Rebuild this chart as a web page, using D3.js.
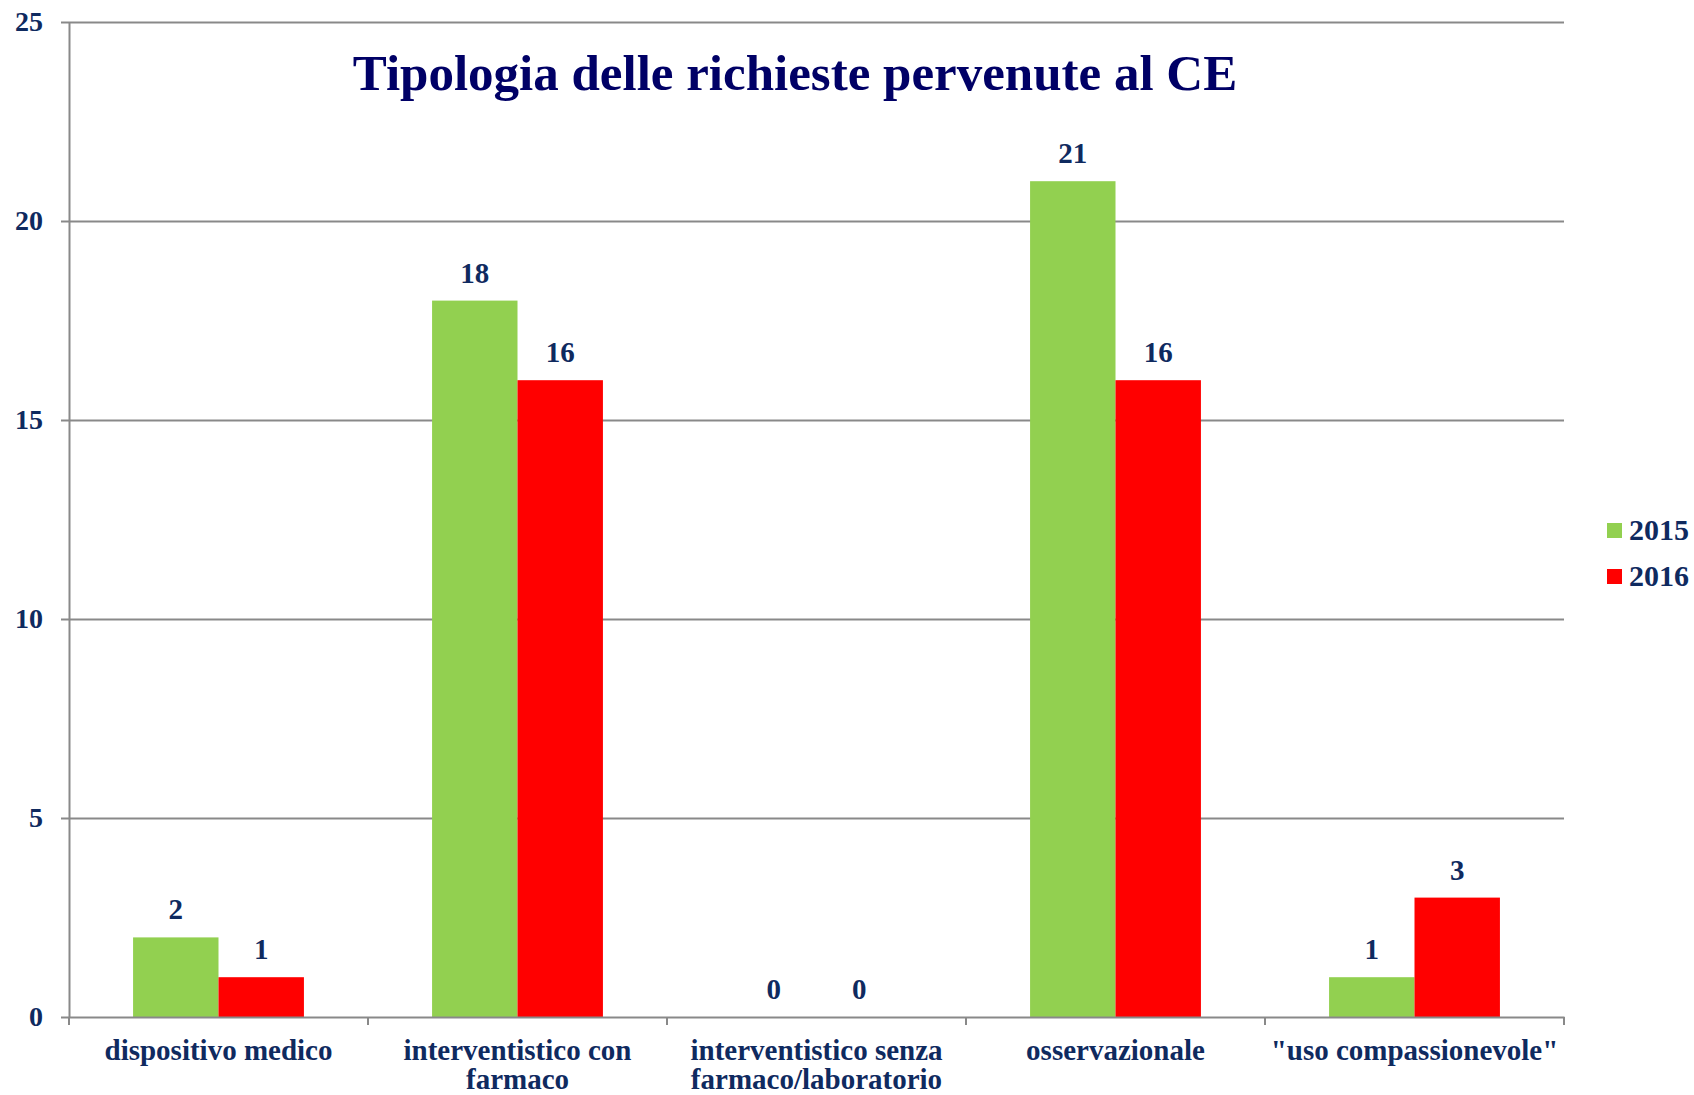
<!DOCTYPE html>
<html>
<head>
<meta charset="utf-8">
<script src="https://cdn.jsdelivr.net/npm/d3@7"></script>
<style>
	body { margin: 0; background: #ffffff; }
	text { font-family: "Liberation Serif", "DejaVu Serif", serif; font-weight: bold; }
</style>
</head>
<body>
<div id="chart"></div>
<script>
var w = 1694;
var h = 1095;

var categories = ["dispositivo medico", "interventistico con farmaco", "interventistico senza farmaco/laboratorio", "osservazionale", "\"uso compassionevole\""];
var series = ["2015", "2016"];
var values2015 = [2, 18, 0, 21, 1];
var values2016 = [1, 16, 0, 16, 3];
var tickValues = [0, 5, 10, 15, 20, 25];
var colors = ["#92d050", "#ff0000"];
var title = "Tipologia delle richieste pervenute al CE";

var plotLeft = 69;
var plotRight = 1564;
var plotTop = 22;
var plotBottom = 1017;
var textColor = "#0f2a5f";
var lineColor = "#898989";

var dataset = [];
categories.forEach(function(c, i) {
	dataset.push({ category: c, values: [
		{ year: series[0], value: values2015[i] },
		{ year: series[1], value: values2016[i] }
	]});
});

var svg = d3.select("#chart")
			.append("svg")
			.attr("width", w)
			.attr("height", h);

var xScale = d3.scaleBand()
			.domain(categories)
			.range([plotLeft, plotRight]);

var xSub = d3.scaleBand()
			.domain(series)
			.range([0, xScale.bandwidth()])
			.paddingInner(0)
			.paddingOuter(0.75);

var yScale = d3.scaleLinear()
			.domain([0, 25])
			.range([plotBottom, plotTop]);

var colorScale = d3.scaleOrdinal()
			.domain(series)
			.range(colors);

// gridlines
var grid = svg.append("g")
	.attr("transform", "translate(" + plotLeft + ",0)")
	.call(d3.axisLeft(yScale).tickValues(tickValues.slice(1)).tickSize(-(plotRight - plotLeft)).tickFormat(""));
grid.select(".domain").remove();
grid.selectAll("line").attr("stroke", lineColor).attr("stroke-width", 2);

// y axis
var yAxis = svg.append("g")
	.attr("transform", "translate(" + plotLeft + ",0)")
	.call(d3.axisLeft(yScale).tickValues(tickValues).tickSizeInner(8).tickSizeOuter(0).tickPadding(18));
yAxis.select(".domain").attr("stroke", lineColor).attr("stroke-width", 2);
yAxis.selectAll("line").attr("stroke", lineColor).attr("stroke-width", 2);
yAxis.selectAll("text")
	.style("font-family", "Liberation Serif")
	.style("font-weight", "bold")
	.style("font-size", "28px")
	.attr("fill", textColor);

// bars
var groups = svg.selectAll(".cat")
	.data(dataset)
	.enter()
	.append("g")
	.attr("class", "cat")
	.attr("transform", function(d) {
		return "translate(" + xScale(d.category) + ",0)";
	});

groups.selectAll("rect")
	.data(function(d) { return d.values; })
	.enter()
	.append("rect")
	.attr("x", function(d) { return xSub(d.year); })
	.attr("y", function(d) { return yScale(d.value); })
	.attr("width", xSub.bandwidth())
	.attr("height", function(d) { return plotBottom - yScale(d.value); })
	.attr("fill", function(d) { return colorScale(d.year); });

groups.selectAll(".lbl")
	.data(function(d) { return d.values; })
	.enter()
	.append("text")
	.attr("class", "lbl")
	.attr("x", function(d) { return xSub(d.year) + xSub.bandwidth() / 2; })
	.attr("y", function(d) { return yScale(d.value) - 18; })
	.attr("text-anchor", "middle")
	.style("font-size", "29px")
	.attr("fill", textColor)
	.text(function(d) { return d.value; });

// x axis
var xAxis = svg.append("g")
	.attr("transform", "translate(0," + plotBottom + ")")
	.call(d3.axisBottom(xScale).tickSize(0).tickFormat(""));
xAxis.select(".domain").attr("stroke", lineColor).attr("stroke-width", 2);

var bounds = categories.map(function(c) { return xScale(c); });
bounds.push(plotRight);
svg.selectAll(".xtick")
	.data(bounds)
	.enter()
	.append("line")
	.attr("class", "xtick")
	.attr("x1", function(d) { return d; })
	.attr("x2", function(d) { return d; })
	.attr("y1", plotBottom)
	.attr("y2", plotBottom + 8)
	.attr("stroke", lineColor)
	.attr("stroke-width", 2);

svg.selectAll(".catlabel")
	.data(categories)
	.enter()
	.append("text")
	.attr("class", "catlabel")
	.attr("x", function(d) { return xScale(d) + xScale.bandwidth() / 2; })
	.attr("y", plotBottom + 43)
	.attr("text-anchor", "middle")
	.style("font-size", "29px")
	.attr("fill", textColor)
	.each(function(d) {
		wrap(d3.select(this), d, xScale.bandwidth() - 4);
	});

function wrap(el, str, width) {
	var words = str.split(" ");
	var line = [];
	var x = el.attr("x");
	var tspan = el.append("tspan").attr("x", x).attr("dy", 0);
	words.forEach(function(word) {
		line.push(word);
		tspan.text(line.join(" "));
		if (tspan.node().getComputedTextLength() > width && line.length > 1) {
			line.pop();
			tspan.text(line.join(" "));
			line = [word];
			tspan = el.append("tspan").attr("x", x).attr("dy", 29).text(word);
		}
	});
}

// legend
var legend = svg.selectAll(".legend")
	.data(series)
	.enter()
	.append("g")
	.attr("class", "legend")
	.attr("transform", function(d, i) {
		return "translate(1607," + (523 + i * 46) + ")";
	});

legend.append("rect")
	.attr("width", 15)
	.attr("height", 15)
	.attr("fill", function(d) { return colorScale(d); });

legend.append("text")
	.attr("x", 22)
	.attr("y", 17)
	.style("font-size", "30px")
	.attr("fill", textColor)
	.text(function(d) { return d; });

// title
svg.append("text")
	.attr("x", 795)
	.attr("y", 90)
	.attr("text-anchor", "middle")
	.style("font-size", "51px")
	.attr("fill", "#000066")
	.text(title);
</script>
</body>
</html>
